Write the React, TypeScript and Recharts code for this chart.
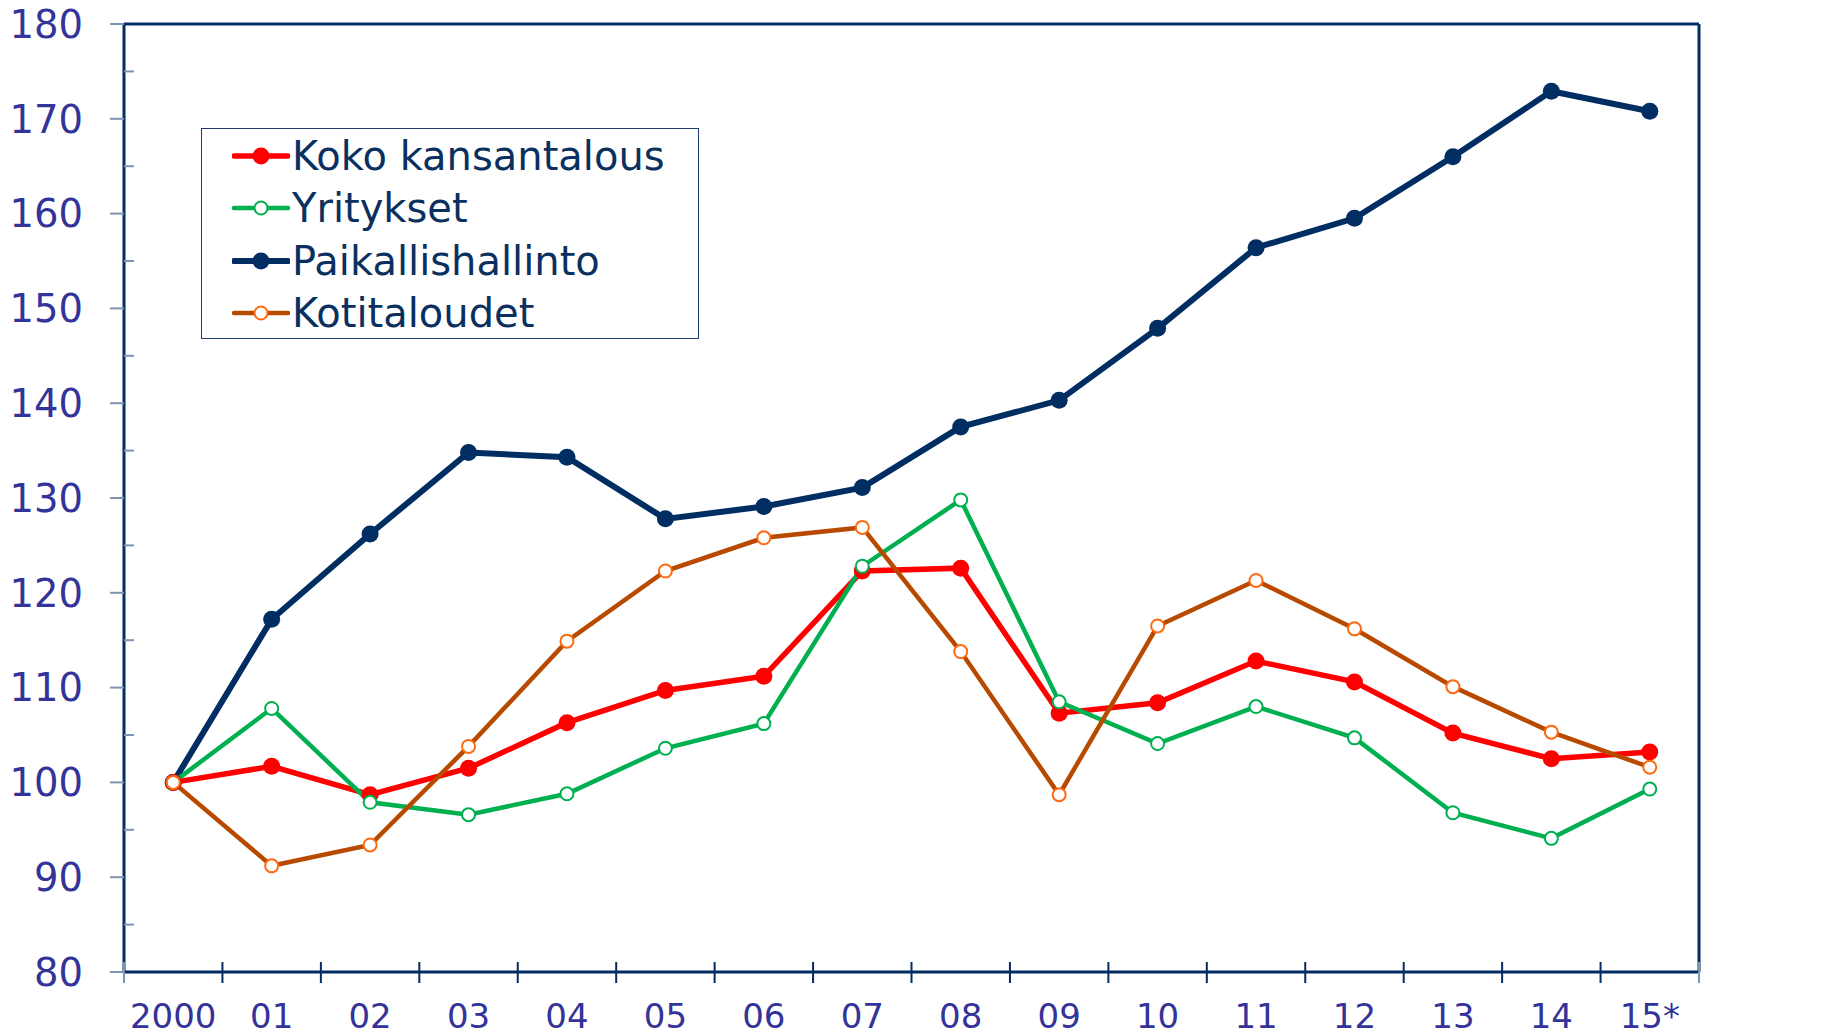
import React from 'react';
import {
  LineChart,
  Line,
  XAxis,
  YAxis,
  CartesianGrid,
  ReferenceLine,
  Legend,
} from 'recharts';

const years = ['2000', '01', '02', '03', '04', '05', '06', '07', '08', '09', '10', '11', '12', '13', '14', '15*'];

const kokoKansantalous = [100, 101.7, 98.7, 101.5, 106.3, 109.7, 111.2, 122.3, 122.6, 107.3, 108.4, 112.8, 110.6, 105.2, 102.5, 103.2];
const yritykset = [100, 107.8, 97.9, 96.6, 98.8, 103.6, 106.2, 122.8, 129.8, 108.5, 104.1, 108.0, 104.7, 96.8, 94.1, 99.3];
const paikallishallinto = [100, 117.2, 126.2, 134.8, 134.3, 127.8, 129.1, 131.1, 137.5, 140.3, 147.9, 156.4, 159.5, 166.0, 172.9, 170.8];
const kotitaloudet = [100, 91.2, 93.4, 103.8, 114.9, 122.3, 125.8, 126.9, 113.8, 98.7, 116.5, 121.3, 116.2, 110.1, 105.3, 101.6];

const yTicks = [80, 85, 90, 95, 100, 105, 110, 115, 120, 125, 130, 135, 140, 145, 150, 155, 160, 165, 170, 175, 180];
const gridValues = [90, 100, 110, 120, 130, 140, 150, 160, 170];

const data = years.map((year, i) => ({
  year,
  koko: kokoKansantalous[i],
  yritykset: yritykset[i],
  paikallis: paikallishallinto[i],
  koti: kotitaloudet[i],
}));

const NAVY = '#002d62';
const TICK_LIGHT = '#7f93b3';
const LABEL = '#333399';
const FONT = '"DejaVu Sans", Verdana, sans-serif';

// legend entries, in the legend's own order
const legendItems = [
  { name: 'Koko kansantalous', line: '#ff0000', width: 5.5, fill: '#ff0000', stroke: 'none', r: 8.5 },
  { name: 'Yritykset', line: '#00b050', width: 4.5, fill: '#ffffff', stroke: '#00b050', r: 6.5 },
  { name: 'Paikallishallinto', line: NAVY, width: 6, fill: NAVY, stroke: 'none', r: 8.5 },
  { name: 'Kotitaloudet', line: '#b84a00', width: 4.5, fill: '#ffffff', stroke: '#ff6a10', r: 6.5 },
];

const LeftTick = (props: any) => {
  const { x, y, payload } = props;
  const v = payload.value;
  if (v % 10 !== 0) {
    return <line x1={x} x2={x + 10} y1={y} y2={y} stroke={TICK_LIGHT} strokeWidth={2} />;
  }
  return (
    <g>
      <line x1={x - 14} x2={x} y1={y} y2={y} stroke={TICK_LIGHT} strokeWidth={2} />
      <text x={x - 41} y={y} dy="0.36em" textAnchor="end" fill={LABEL} fontSize={38.5} fontFamily={FONT}>
        {v}
      </text>
    </g>
  );
};

const RightTick = (props: any) => {
  const { x, y, payload } = props;
  const v = payload.value;
  if (v % 10 !== 0) {
    return <line x1={x - 11} x2={x} y1={y} y2={y} stroke={TICK_LIGHT} strokeWidth={2} />;
  }
  return (
    <g>
      <line x1={x} x2={x + 14} y1={y} y2={y} stroke={TICK_LIGHT} strokeWidth={2} />
      <text x={x + 41} y={y} dy="0.36em" textAnchor="start" fill={LABEL} fontSize={38.5} fontFamily={FONT}>
        {v}
      </text>
    </g>
  );
};

const BottomTick = (props: any) => {
  const { x, y, payload, index } = props;
  const half = payload.offset || 1575 / years.length / 2;
  const last = index === years.length - 1;
  return (
    <g>
      <line x1={x - half} x2={x - half} y1={y - 10} y2={y + 11} stroke={index === 0 ? TICK_LIGHT : NAVY} strokeWidth={2} />
      {last && <line x1={x + half} x2={x + half} y1={y - 10} y2={y + 11} stroke={TICK_LIGHT} strokeWidth={2} />}
      <text x={x} y={y + 56} textAnchor="middle" fill={LABEL} fontSize={34} fontFamily={FONT}>
        {payload.value}
      </text>
    </g>
  );
};

const LegendBox = () => (
  <div
    style={{
      position: 'relative',
      width: 496,
      height: 209,
      background: '#ffffff',
      border: `1.5px solid #1f3d6b`,
      fontFamily: FONT,
    }}
  >
    {legendItems.map((item, i) => (
      <div key={item.name} style={{ position: 'absolute', left: 30, top: 27 + i * 52.3 - 22, height: 44, display: 'flex', alignItems: 'center' }}>
        <svg width={58} height={44}>
          <line x1={2} x2={56} y1={22} y2={22} stroke={item.line} strokeWidth={item.width} strokeLinecap="round" />
          <circle cx={29} cy={22} r={item.r} fill={item.fill} stroke={item.stroke} strokeWidth={2} />
        </svg>
        <span style={{ fontSize: 40, color: '#0a3060', marginLeft: 2, lineHeight: '44px', whiteSpace: 'nowrap' }}>{item.name}</span>
      </div>
    ))}
  </div>
);

export default function App() {
  return (
    <div style={{ position: 'absolute', left: 0, top: 0, width: 1825, height: 1035, background: '#ffffff' }}>
      <LineChart width={1825} height={1035} data={data} margin={{ top: 24, right: 16, bottom: 13, left: 14 }}>
        <CartesianGrid vertical={false} horizontalValues={gridValues} stroke={NAVY} strokeWidth={1.5} strokeDasharray="2 1.5" />
        <XAxis
          dataKey="year"
          scale="band"
          height={50}
          interval={0}
          tickSize={0}
          tickMargin={0}
          tickLine={false}
          axisLine={{ stroke: NAVY, strokeWidth: 3 }}
          tick={<BottomTick />}
        />
        <YAxis
          yAxisId="left"
          orientation="left"
          width={110}
          domain={[80, 180]}
          ticks={yTicks}
          interval={0}
          tickSize={0}
          tickMargin={0}
          tickLine={false}
          axisLine={{ stroke: NAVY, strokeWidth: 3 }}
          tick={<LeftTick />}
        />
        <YAxis
          yAxisId="right"
          orientation="right"
          width={110}
          domain={[80, 180]}
          ticks={yTicks}
          interval={0}
          tickSize={0}
          tickMargin={0}
          tickLine={false}
          axisLine={{ stroke: NAVY, strokeWidth: 3 }}
          tick={<RightTick />}
        />
        <ReferenceLine yAxisId="left" y={180} stroke={NAVY} strokeWidth={3} />
        <Line
          yAxisId="left"
          type="linear"
          dataKey="paikallis"
          name="Paikallishallinto"
          stroke={NAVY}
          strokeWidth={6}
          dot={{ r: 8.5, fill: NAVY, stroke: 'none' }}
          isAnimationActive={false}
        />
        <Line
          yAxisId="left"
          type="linear"
          dataKey="koko"
          name="Koko kansantalous"
          stroke="#ff0000"
          strokeWidth={5.5}
          dot={{ r: 8.5, fill: '#ff0000', stroke: 'none' }}
          isAnimationActive={false}
        />
        <Line
          yAxisId="left"
          type="linear"
          dataKey="yritykset"
          name="Yritykset"
          stroke="#00b050"
          strokeWidth={4.5}
          dot={{ r: 6.5, fill: '#ffffff', stroke: '#00b050', strokeWidth: 2 }}
          isAnimationActive={false}
        />
        <Line
          yAxisId="left"
          type="linear"
          dataKey="koti"
          name="Kotitaloudet"
          stroke="#b84a00"
          strokeWidth={4.5}
          dot={{ r: 6.5, fill: '#ffffff', stroke: '#ff6a10', strokeWidth: 2 }}
          isAnimationActive={false}
        />
        <Legend
          verticalAlign="middle"
          align="center"
          layout="horizontal"
          wrapperStyle={{ position: 'absolute', left: 201, top: 128, width: 499, height: 212 }}
          content={() => <LegendBox />}
        />
      </LineChart>
    </div>
  );
}
